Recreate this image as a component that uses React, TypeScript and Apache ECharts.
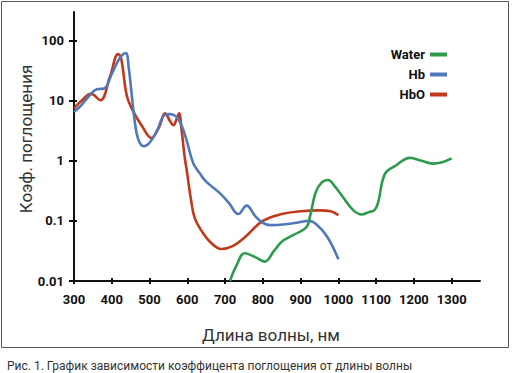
import React, { useEffect, useRef } from "react";
import * as echarts from "echarts";

const xTicks = [300, 400, 500, 600, 700, 800, 900, 1000, 1100, 1200, 1300];
const yTicks = [0.01, 0.1, 1, 10, 100];
const yTickLabels = ["0.01", "0.1", "1", "10", "100"];

const waterNm = [713, 730, 752, 780, 805, 830, 850, 880, 915, 925, 940, 955, 973, 990, 1012, 1040, 1062, 1080, 1095, 1105, 1123, 1150, 1190, 1220, 1250, 1275, 1300];
const waterVal = [0.01, 0.018, 0.029, 0.025, 0.021, 0.032, 0.045, 0.058, 0.078, 0.12, 0.3, 0.43, 0.48, 0.38, 0.25, 0.15, 0.128, 0.14, 0.15, 0.2, 0.6, 0.82, 1.12, 1.0, 0.9, 0.95, 1.1];

const hbNm = [300, 320, 340, 360, 380, 400, 420, 437, 445, 452, 460, 470, 485, 500, 520, 540, 555, 570, 580, 590, 600, 616, 633, 650, 686, 710, 735, 757, 780, 800, 820, 860, 900, 920, 940, 970, 1000];
const hbVal = [6.5, 8.5, 12, 15.5, 16, 28, 50, 62, 35, 14, 5, 2.3, 1.75, 2.0, 3.2, 5.8, 6.0, 5.5, 4.5, 3.2, 2.0, 0.9, 0.62, 0.45, 0.29, 0.2, 0.13, 0.18, 0.12, 0.093, 0.085, 0.088, 0.096, 0.1, 0.09, 0.055, 0.023];

const hboNm = [300, 320, 345, 370, 395, 417, 425, 440, 455, 480, 505, 525, 541, 555, 563, 572, 578, 585, 592, 600, 610, 620, 640, 660, 690, 720, 750, 800, 850, 900, 950, 980, 1000];
const hboVal = [7.5, 10, 13, 10.2, 25, 60, 50, 12, 7, 3.8, 2.4, 3.6, 6.2, 4.5, 3.9, 5, 6.2, 3.2, 1.3, 0.6, 0.22, 0.11, 0.065, 0.045, 0.034, 0.038, 0.052, 0.1, 0.13, 0.145, 0.15, 0.145, 0.125];

const seriesNames = ["Water", "Hb", "HbO"];
const seriesColors = ["#2e9a4c", "#5078bb", "#c0391c"];

const pairs = (xs: number[], ys: number[]) => xs.map((x, i) => [x, ys[i]]);

const font = "Roboto, 'Liberation Sans', sans-serif";

export default function App() {
  const ref = useRef<HTMLDivElement>(null);
  useEffect(() => {
    if (!ref.current) return;
    const chart = echarts.init(ref.current, null, { renderer: "svg" });
    const lbl = { fontFamily: font, fontWeight: "bold" as const, fontSize: 13, color: "#111" };
    const axisLineStyle = { color: "#111", width: 2 };
    const datasets = [pairs(waterNm, waterVal), pairs(hbNm, hbVal), pairs(hboNm, hboVal)];
    chart.setOption({
      animation: false,
      backgroundColor: "#fff",
      grid: { left: 74, right: 32, top: 12, bottom: 92, containLabel: false },
      legend: {
        orient: "vertical",
        right: 60,
        top: 43,
        align: "right",
        itemWidth: 17,
        itemHeight: 4,
        itemGap: 7,
        icon: "rect",
        data: seriesNames,
        textStyle: { fontFamily: font, fontWeight: "bold", fontSize: 13, color: "#111" },
      },
      xAxis: [
        {
          type: "value",
          min: 300,
          max: 1375,
          axisLine: { show: true, onZero: false, lineStyle: axisLineStyle },
          axisTick: { show: true, length: 3, lineStyle: axisLineStyle, customValues: xTicks },
          axisLabel: {
            ...lbl,
            margin: 12,
            customValues: xTicks,
            hideOverlap: false,
            formatter: (v: number) => String(Math.round(v)),
          },
          splitLine: { show: false },
        },
        {
          type: "value",
          min: 300,
          max: 1375,
          position: "bottom",
          offset: 0,
          axisLine: { show: false, onZero: false },
          axisTick: { show: true, inside: true, length: 3, lineStyle: axisLineStyle, customValues: xTicks },
          axisLabel: { show: false },
          splitLine: { show: false },
        },
      ],
      yAxis: [
        {
          type: "log",
          logBase: 10,
          min: 0.01,
          max: 300,
          axisLine: { show: true, onZero: false, lineStyle: axisLineStyle },
          axisTick: { show: true, length: 5, lineStyle: axisLineStyle, customValues: yTicks },
          axisLabel: {
            ...lbl,
            margin: 10,
            customValues: yTicks,
            formatter: (v: number) => {
              const i = yTicks.findIndex((t) => Math.abs(Math.log10(t) - Math.log10(v)) < 1e-6);
              return i >= 0 ? yTickLabels[i] : "";
            },
          },
          splitLine: { show: false },
        },
        {
          type: "log",
          logBase: 10,
          min: 0.01,
          max: 300,
          position: "left",
          offset: 0,
          axisLine: { show: false, onZero: false },
          axisTick: { show: true, inside: true, length: 3, lineStyle: axisLineStyle, customValues: yTicks },
          axisLabel: { show: false },
          splitLine: { show: false },
        },
      ],
      series: seriesNames.map((name, i) => ({
        name,
        type: "line",
        xAxisIndex: 0,
        yAxisIndex: 0,
        data: datasets[i],
        smooth: 0.4,
        showSymbol: false,
        symbol: "none",
        color: seriesColors[i],
        lineStyle: { color: seriesColors[i], width: 2.6 },
        itemStyle: { color: seriesColors[i] },
        z: 3 - i,
      })),
      graphic: [
        {
          type: "rect",
          shape: { x: 1.5, y: 1.5, width: 507, height: 346 },
          style: { fill: "none", stroke: "#555", lineWidth: 1 },
          silent: true,
        },
        {
          type: "text",
          x: 26,
          y: 139,
          rotation: Math.PI / 2,
          style: {
            text: "Коэф. поглощения",
            fontFamily: font,
            fontSize: 17,
            fill: "#333",
            align: "center",
            verticalAlign: "middle",
          },
        },
        {
          type: "text",
          x: 271,
          y: 335,
          style: {
            text: "Длина волны, нм",
            fontFamily: font,
            fontSize: 17,
            fill: "#333",
            align: "center",
            verticalAlign: "middle",
          },
        },
        {
          type: "text",
          x: 7,
          y: 366,
          style: {
            text: "Рис. 1. График зависимости коэффицента поглощения от длины волны",
            fontFamily: font,
            fontSize: 12,
            fill: "#333",
            align: "left",
            verticalAlign: "middle",
          },
        },
      ],
    });
    return () => chart.dispose();
  }, []);
  return (
    <div
      ref={ref}
      style={{ position: "absolute", left: 0, top: 0, width: 512, height: 373 }}
    />
  );
}
